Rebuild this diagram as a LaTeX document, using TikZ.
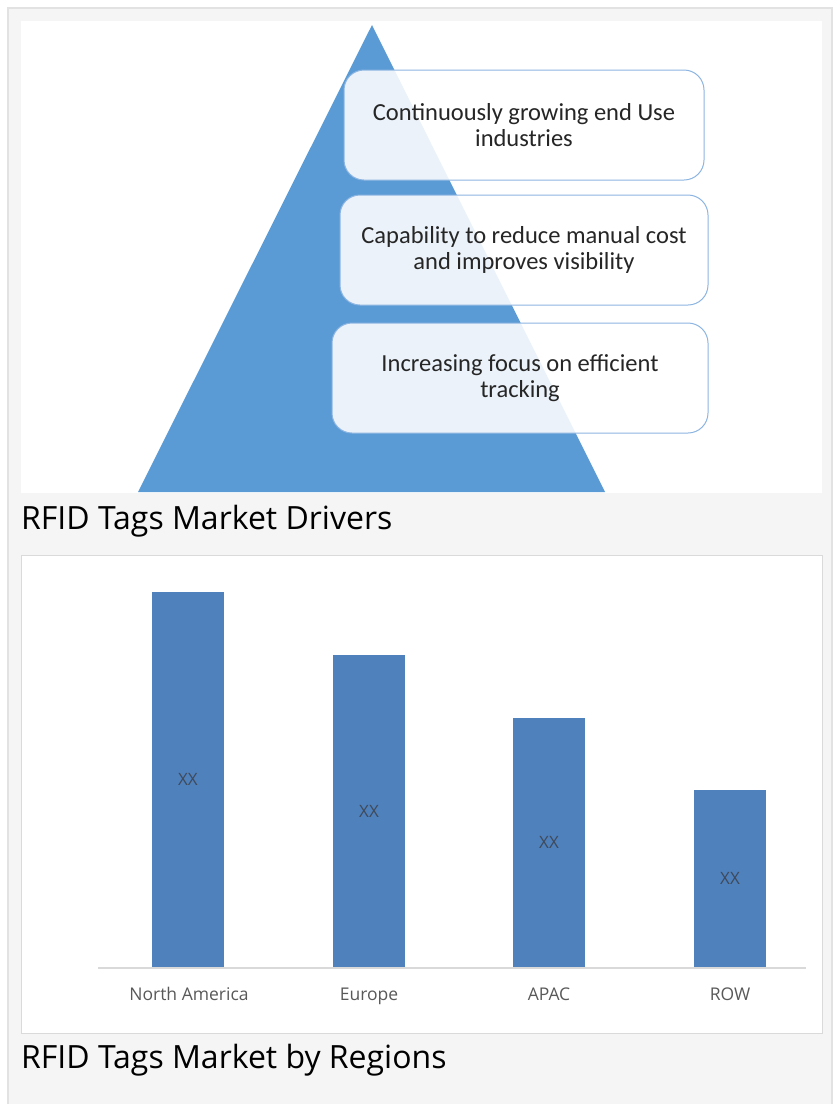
\documentclass[tikz,border=0pt]{standalone}
\usepackage{fontspec}
\setmainfont{Open Sans}
\newfontfamily\boxfont{Carlito}
\definecolor{pagebg}{HTML}{F5F5F5}
\definecolor{framegray}{HTML}{E2E2E2}
\definecolor{panelline}{HTML}{DADADA}
\definecolor{pyramidblue}{HTML}{5B9BD5}
\definecolor{boxline}{HTML}{8DB5E2}
\definecolor{barblue}{HTML}{4F81BD}
\definecolor{axisgray}{HTML}{D9D9D9}
\definecolor{labelgray}{HTML}{595959}
\definecolor{valuegray}{HTML}{3F4A5A}
\begin{document}
\begin{tikzpicture}[x=1pt,y=-1pt,
  driverbox/.style={draw=boxline, line width=1pt, fill=white, fill opacity=0.88,
    text opacity=1, rounded corners=20pt, minimum height=110pt,
    align=center, font=\boxfont\fontsize{24.5}{26.5}\selectfont, text=black!85},
  bar/.style={fill=barblue, draw=none, anchor=south, minimum width=72pt,
    inner sep=0pt, font=\fontsize{17}{17}\selectfont, text=valuegray},
  catlabel/.style={anchor=base, inner sep=0pt, font=\fontsize{17.5}{18}\selectfont, text=labelgray},
  caption/.style={anchor=west, inner sep=0pt, font=\fontsize{32}{34}\selectfont, text=black}]
\useasboundingbox (0,0) rectangle (836,1104);
\fill[white] (0,0) rectangle (836,1104);
% outer frame
\fill[pagebg] (8,8) rectangle (832,1104);
\draw[framegray, line width=2pt] (8,1104) -- (8,8) -- (832,8) -- (832,1104);
% upper panel: pyramid with driver boxes
\fill[white] (21,21) rectangle (822,493);
\fill[pyramidblue] (372,25) -- (605,492) -- (138,492) -- cycle;
\node[driverbox, minimum width=360pt] (d1) at (524,125) {Continuously growing end Use\\industries};
\node[driverbox, minimum width=368pt] (d2) at (524,250) {Capability to reduce manual cost\\and improves visibility};
\node[driverbox, minimum width=376pt] (d3) at (520,378) {Increasing focus on efficient\\tracking};
\node[caption] (cap1) at (21,521) {RFID Tags Market Drivers};
% lower panel: bar chart
\filldraw[fill=white, draw=panelline, line width=1pt] (21,555) rectangle (822,1033);
\node[bar, minimum height=376pt] (na) at (188,968) {XX};
\node[bar, minimum height=313pt] (eu) at (369,968) {XX};
\node[bar, minimum height=250pt] (ap) at (549,968) {XX};
\node[bar, minimum height=178pt] (rw) at (730,968) {XX};
\draw[axisgray, line width=1.2pt] (98,968) -- (806,968);
\node[catlabel] (lna) at (189,1000) {North America};
\node[catlabel] (leu) at (369,1000) {Europe};
\node[catlabel] (lap) at (549,1000) {APAC};
\node[catlabel] (lrw) at (730,1000) {ROW};
\node[caption] (cap2) at (21,1060) {RFID Tags Market by Regions};
\end{tikzpicture}
\end{document}
